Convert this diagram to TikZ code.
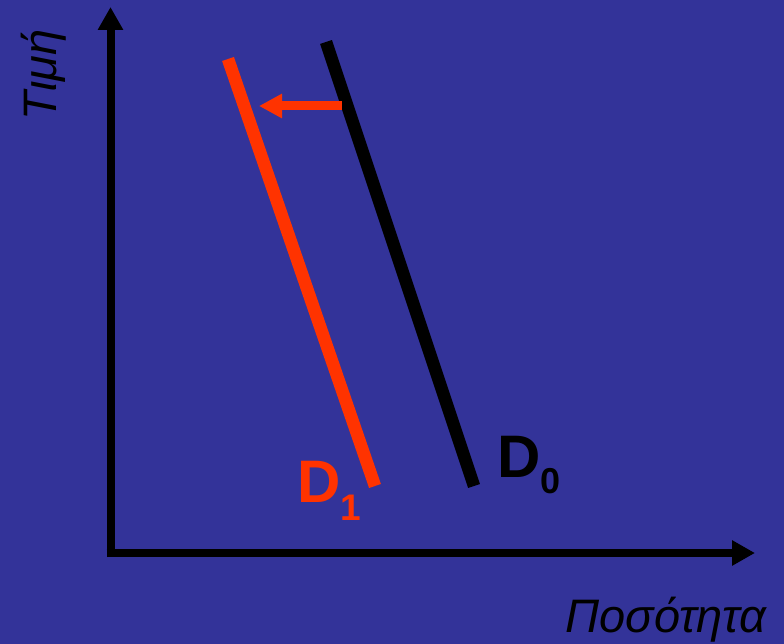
\documentclass[tikz,border=0pt]{standalone}
\usepackage{fontspec}
\setmainfont{Liberation Sans}
\usetikzlibrary{arrows.meta}
\definecolor{bgblue}{HTML}{333399}
\definecolor{dred}{HTML}{FF3300}

\begin{document}
\begin{tikzpicture}[x=1pt, y=-1pt,
    axis/.style={draw=black, line width=8pt, -{Triangle[length=23pt, width=24pt]}},
    curve/.style={line width=12.5pt},
    leftshift/.style={draw=dred, line width=9pt, -{Triangle[length=23pt, width=23pt]}},
    axislabel/.style={inner sep=0pt, font=\fontsize{47}{47}\selectfont\itshape},
    dlabel/.style={inner sep=0pt, anchor=base west, font=\fontsize{60}{60}\selectfont\bfseries}]
  \fill[bgblue] (0,0) rectangle (784,644);
  \useasboundingbox (0,0) rectangle (784,644);
  % axes
  \coordinate (O) at (110.5,553);
  \coordinate (ytip) at (110.5,7);
  \coordinate (xtip) at (755,553);
  \draw[axis] ([yshift=-4pt]O) -- (ytip);
  \draw[axis] ([xshift=-4pt]O) -- (xtip);
  \node[axislabel, rotate=90, anchor=base] (price) at (56,75) {Τιμή};
  \node[axislabel, anchor=base] (quantity) at (666,632) {Ποσότητα};
  % demand curves
  \coordinate (d0top) at (326,42);
  \coordinate (d0bot) at (474,486);
  \coordinate (d1top) at (228,59);
  \coordinate (d1bot) at (375,486);
  \draw[curve, black] (d0top) -- (d0bot);
  \draw[curve, dred] (d1top) -- (d1bot);
  % shift to the left
  \coordinate (from) at (342,106);
  \coordinate (to) at (259,106);
  \draw[leftshift] (from) -- (to);
  \node[dlabel, text=black] (D0) at (497,477) {D\raisebox{-16pt}{\fontsize{36}{36}\selectfont 0}};
  \node[dlabel, text=dred] (D1) at (297,502) {D\raisebox{-18pt}{\fontsize{37}{37}\selectfont 1}};
\end{tikzpicture}
\end{document}
